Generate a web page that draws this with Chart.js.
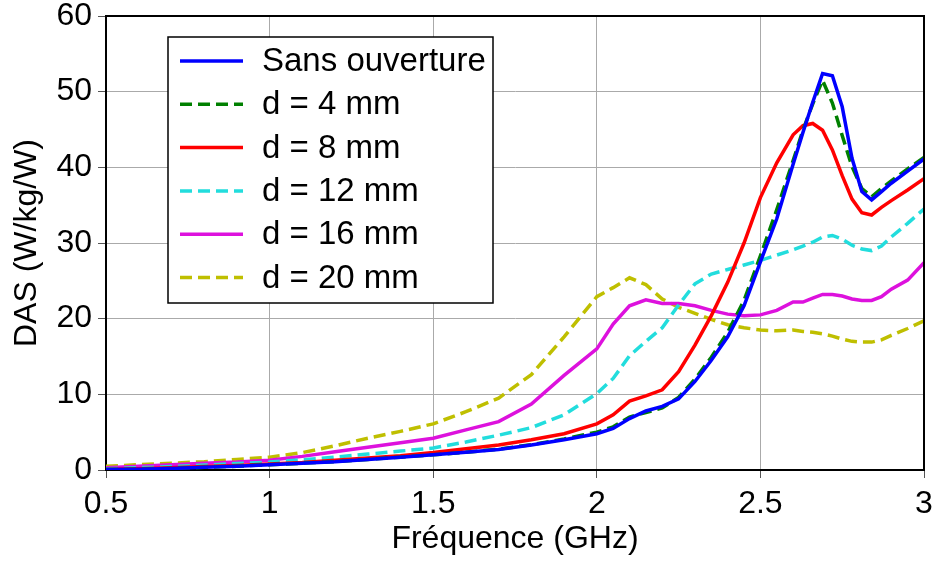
<!DOCTYPE html>
<html lang="fr">
<head>
  <meta charset="UTF-8">
  <title>DAS en fonction de la fréquence</title>
  <script src="https://cdn.jsdelivr.net/npm/chart.js"></script>
  <style>
    html, body { margin: 0; padding: 0; background: #fff; }
    #wrap { width: 934px; height: 563px; }
  </style>
</head>
<body>
<div id="wrap"><canvas id="graphique"></canvas></div>

<script>
  // Fréquences (GHz)
  const freq = [0.5, 0.6, 0.7, 0.8, 0.9, 1.0, 1.1, 1.2, 1.3, 1.4, 1.5, 1.6, 1.7, 1.8, 1.9,
    2.0, 2.05, 2.1, 2.15, 2.2, 2.25, 2.3, 2.35, 2.4, 2.45,
    2.5, 2.55, 2.6, 2.63, 2.66, 2.69, 2.72, 2.75, 2.78, 2.81, 2.84, 2.87, 2.9, 2.95, 3.0];

  // DAS (W/kg/W) pour chaque configuration
  const sansOuverture = [0.05, 0.1, 0.2, 0.35, 0.5, 0.7, 0.9, 1.1, 1.4, 1.7, 2.0, 2.35, 2.7, 3.3, 4.0,
    4.8, 5.5, 6.8, 7.8, 8.4, 9.4, 11.7, 14.5, 17.6, 21.7,
    27.5, 33.2, 40.4, 44.6, 48.6, 52.4, 52.1, 48.0, 41.2, 36.8, 35.7, 36.8, 37.9, 39.5, 41.1];
  const d4 = [0.05, 0.1, 0.2, 0.35, 0.5, 0.7, 0.9, 1.1, 1.4, 1.7, 2.0, 2.35, 2.75, 3.35, 4.1,
    5.0, 5.7, 7.0, 7.6, 8.2, 9.6, 12.0, 14.9, 18.2, 22.4,
    28.3, 34.4, 40.9, 44.9, 48.4, 51.5, 48.5, 44.2, 40.1, 37.2, 36.1, 37.2, 38.2, 39.8, 41.3];
  const d8 = [0.05, 0.15, 0.3, 0.45, 0.6, 0.8, 1.0, 1.3, 1.6, 1.9, 2.3, 2.8, 3.3, 4.0, 4.8,
    6.1, 7.3, 9.1, 9.8, 10.6, 13.0, 16.5, 20.4, 24.8, 30.0,
    36.0, 40.6, 44.3, 45.5, 45.8, 44.9, 42.3, 38.9, 35.8, 34.0, 33.7, 34.7, 35.6, 37.0, 38.5];
  const d12 = [0.15, 0.3, 0.45, 0.65, 0.85, 1.05, 1.35, 1.7, 2.1, 2.5, 2.9, 3.7, 4.6, 5.6, 7.3,
    10.1, 12.1, 15.1, 17.0, 18.8, 21.8, 24.6, 25.9, 26.5, 27.1,
    27.7, 28.4, 29.1, 29.6, 30.1, 30.8, 31.0, 30.5, 29.7, 29.2, 29.0, 29.6, 30.8, 32.6, 34.5];
  const d16 = [0.3, 0.5, 0.7, 0.9, 1.05, 1.3, 1.8, 2.4, 3.0, 3.6, 4.2, 5.3, 6.4, 8.7, 12.5,
    16.0, 19.3, 21.7, 22.5, 22.0, 22.0, 21.7, 21.1, 20.6, 20.4,
    20.5, 21.1, 22.2, 22.2, 22.7, 23.2, 23.2, 23.0, 22.6, 22.4, 22.4, 22.9, 23.9, 25.1, 27.4];
  const d20 = [0.5, 0.7, 0.9, 1.1, 1.4, 1.7, 2.3, 3.2, 4.2, 5.1, 6.1, 7.7, 9.5, 12.6, 17.6,
    22.9, 24.1, 25.4, 24.5, 22.6, 21.5, 20.7, 19.9, 19.2, 18.8,
    18.5, 18.4, 18.5, 18.3, 18.2, 18.0, 17.7, 17.3, 17.0, 16.9, 16.9, 17.2, 17.8, 18.7, 19.7];

  const etiquettes = ['Sans ouverture', 'd = 4 mm', 'd = 8 mm', 'd = 12 mm', 'd = 16 mm', 'd = 20 mm'];
  const series = [sansOuverture, d4, d8, d12, d16, d20];
  const couleurs = ['#0000ff', '#008000', '#ff0000', '#22dddd', '#dd11dd', '#bfbf00'];
  const pointilles = [[], [12, 6], [], [12, 6], [], [12, 6]];

  const police = "'Liberation Sans', Arial, sans-serif";
  Chart.defaults.font.family = police;
  Chart.defaults.font.size = 32;
  Chart.defaults.color = '#000';

  // Cadre noir autour de la zone de tracé + légende à l'intérieur
  const cadreEtLegende = {
    id: 'cadreEtLegende',
    afterDatasetsDraw(chart) {
      const ctx = chart.ctx;
      const a = chart.chartArea;
      ctx.save();
      ctx.strokeStyle = '#000';
      ctx.lineWidth = 2;
      ctx.beginPath();
      ctx.moveTo(a.left, a.top);
      ctx.lineTo(a.right, a.top);
      ctx.lineTo(a.right, a.bottom);
      ctx.stroke();

      // légende
      const x0 = 168, y0 = 37, w = 325, h = 266;
      ctx.fillStyle = '#fff';
      ctx.fillRect(x0, y0, w, h);
      ctx.lineWidth = 1.5;
      ctx.strokeRect(x0, y0, w, h);
      ctx.font = '33px ' + police;
      ctx.textBaseline = 'middle';
      chart.data.datasets.forEach((ds, i) => {
        const y = 61 + i * 43.3;
        ctx.strokeStyle = ds.borderColor;
        ctx.lineWidth = 3.5;
        ctx.setLineDash(ds.borderDash || []);
        ctx.beginPath();
        ctx.moveTo(180, y);
        ctx.lineTo(243, y);
        ctx.stroke();
        ctx.setLineDash([]);
        ctx.fillStyle = '#000';
        ctx.fillText(ds.label, 262, y + 1);
      });
      ctx.restore();
    }
  };

  new Chart(document.getElementById('graphique'), {
    type: 'line',
    data: {
      datasets: series.map((vals, i) => ({
        label: etiquettes[i],
        data: freq.map((f, j) => ({ x: f, y: vals[j] })),
        borderColor: couleurs[i],
        borderWidth: 3.5,
        borderDash: pointilles[i],
        pointRadius: 0,
        tension: 0,
        fill: false
      }))
    },
    options: {
      responsive: true,
      maintainAspectRatio: false,
      animation: false,
      layout: { padding: 0 },
      plugins: { legend: { display: false }, tooltip: { enabled: false } },
      scales: {
        x: {
          type: 'linear',
          min: 0.5,
          max: 3,
          ticks: { stepSize: 0.5, padding: 7, maxRotation: 0, callback: v => String(v) },
          grid: { color: '#aaaaaa', tickColor: '#555', tickLength: 8 },
          border: { color: '#000', width: 2 },
          title: { display: true, text: 'Fréquence (GHz)', padding: { top: 0, bottom: 5 } },
          afterFit(axis) {
            axis.height = 93;
            axis.paddingLeft = 0;
            axis.paddingRight = 10;
          }
        },
        y: {
          min: 0,
          max: 60,
          ticks: { stepSize: 10, padding: 6 },
          grid: { color: '#aaaaaa', tickColor: '#555', tickLength: 8 },
          border: { color: '#000', width: 2 },
          title: { display: true, text: 'DAS (W/kg/W)', padding: { top: 8, bottom: 0 } },
          afterFit(axis) {
            axis.width = 106;
            axis.paddingTop = 16;
            axis.paddingBottom = 0;
          }
        }
      }
    },
    plugins: [cadreEtLegende]
  });
</script>
</body>
</html>
